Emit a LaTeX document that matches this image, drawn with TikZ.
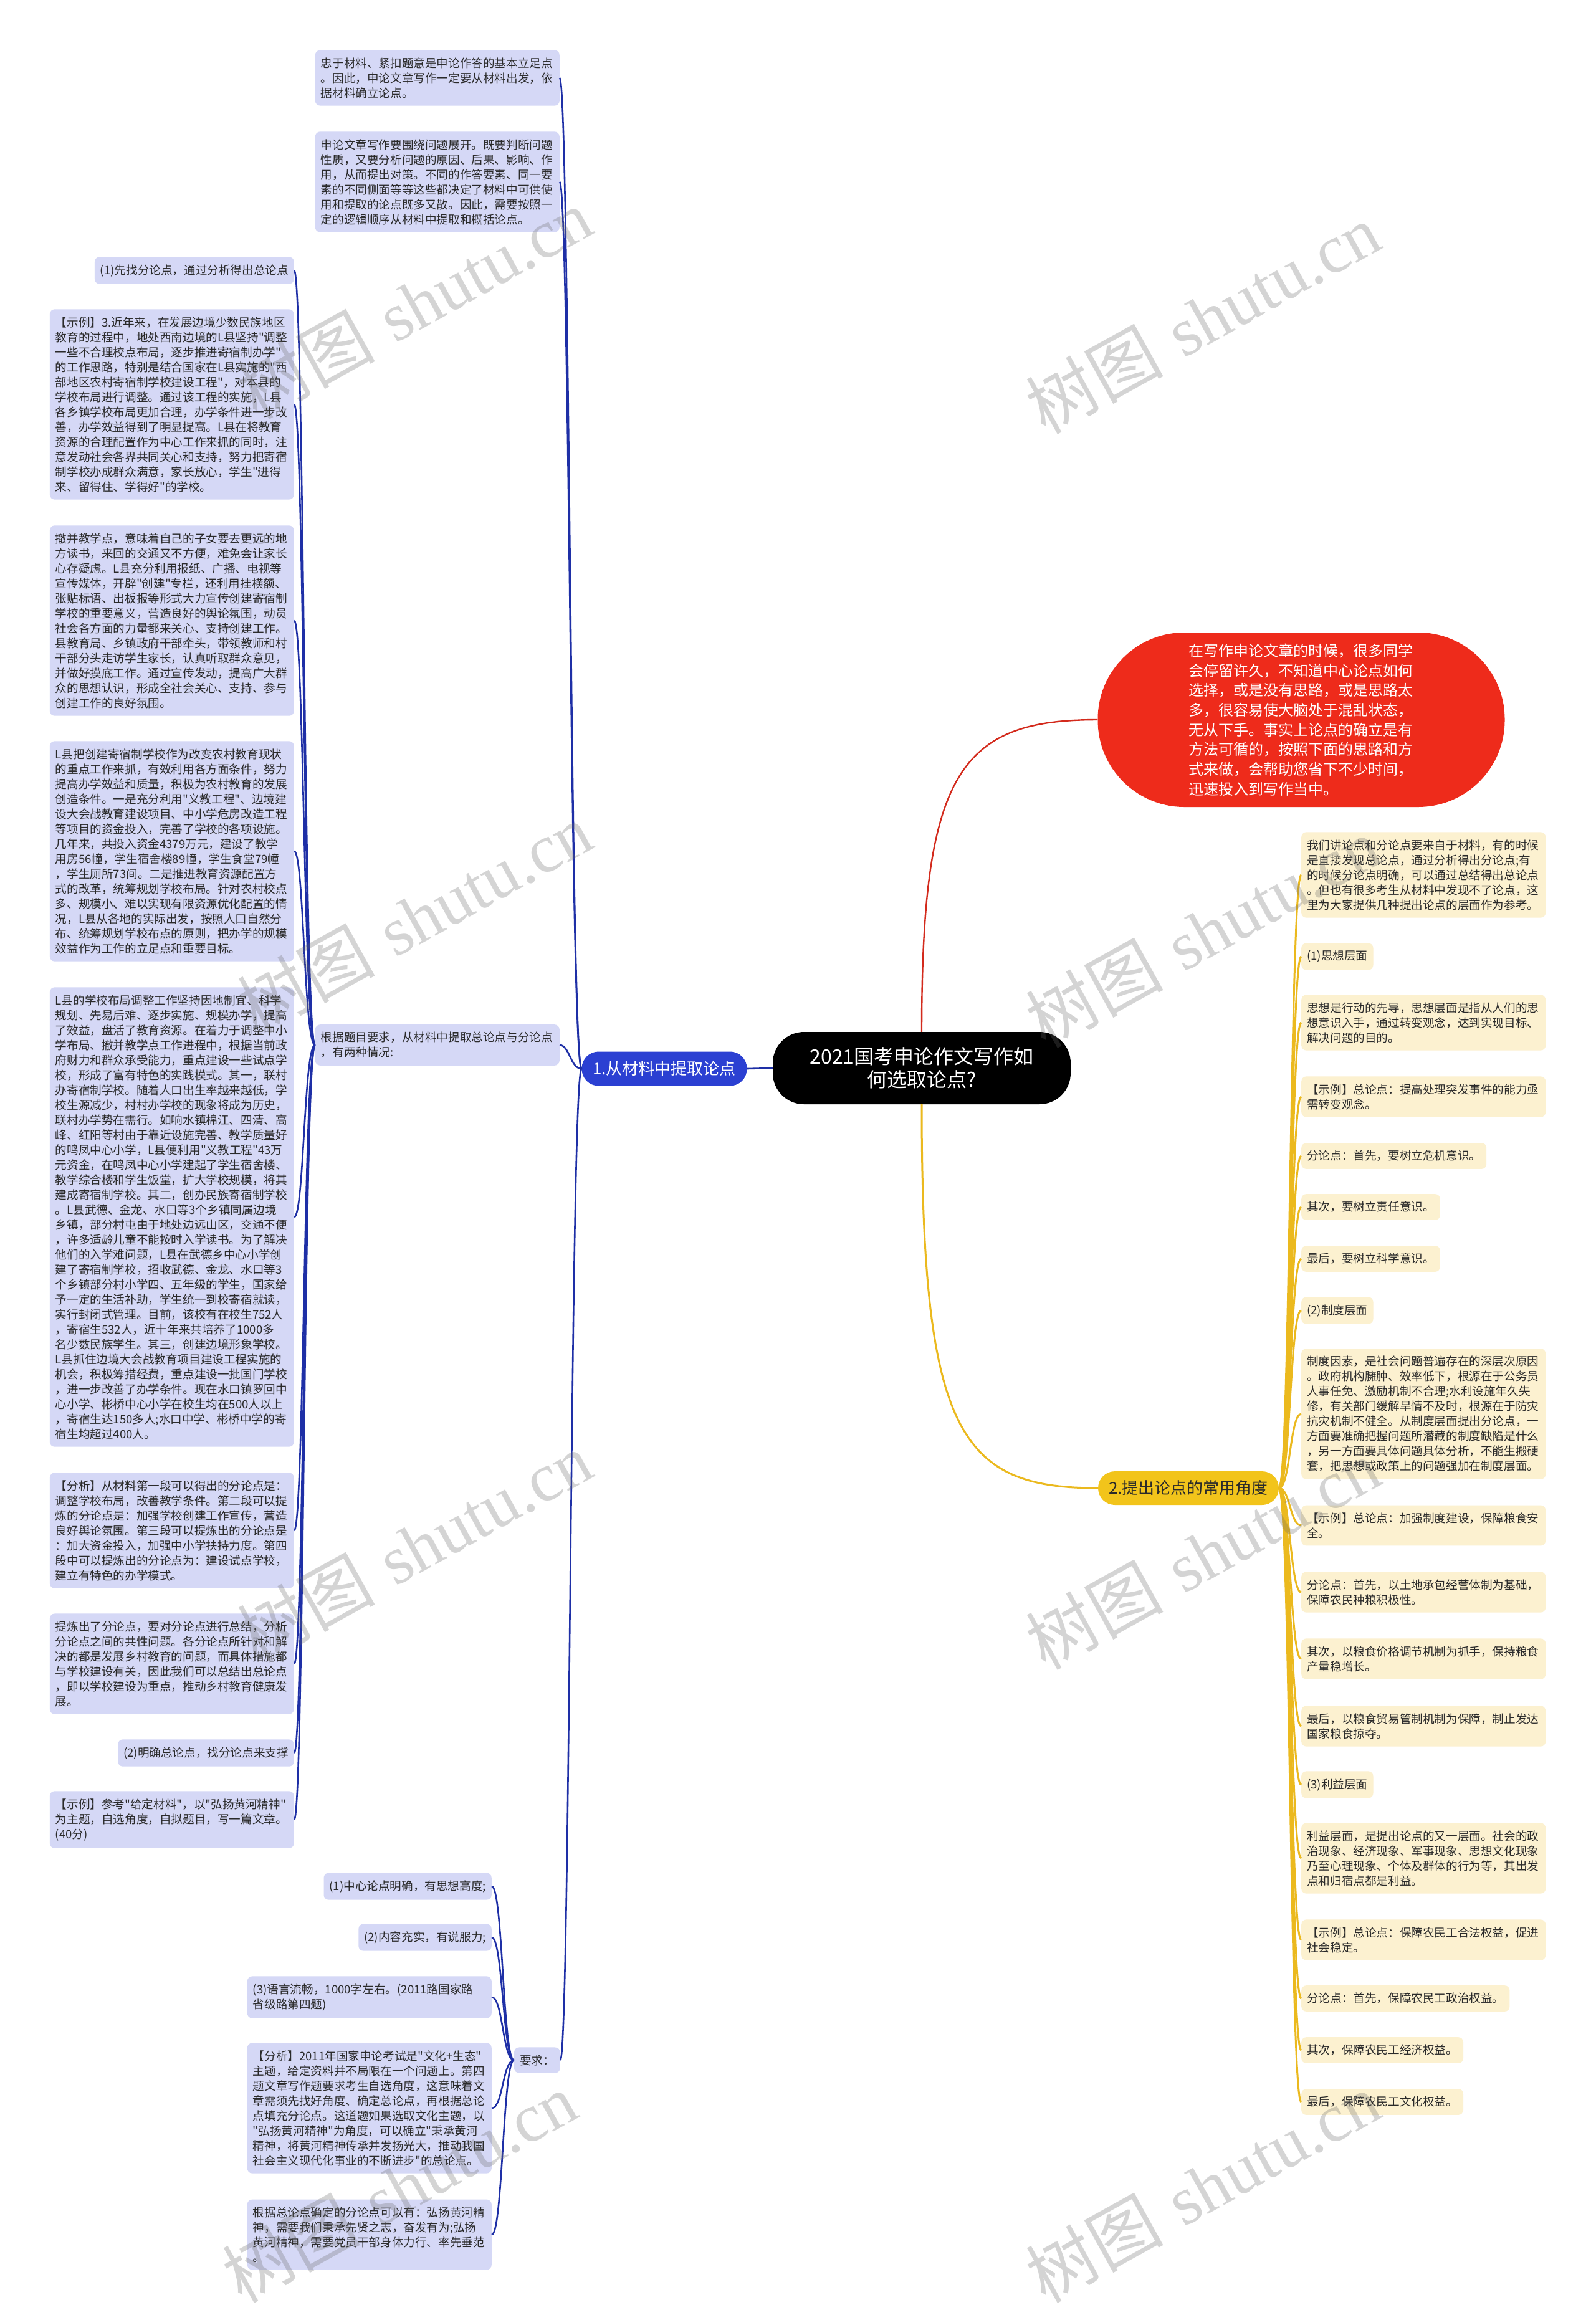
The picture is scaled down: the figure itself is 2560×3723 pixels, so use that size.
\documentclass[tikz,border=0pt]{standalone}
\usepackage{fontspec}
\newfontfamily\zh{Noto Sans CJK SC}
\newfontfamily\wmlat{Liberation Serif}
\definecolor{lav}{HTML}{D5D8F6}
\definecolor{cream}{HTML}{FCF1D0}
\definecolor{bline}{HTML}{1E2FA6}
\definecolor{bnode}{HTML}{2B40D2}
\definecolor{yline}{HTML}{EBB91E}
\definecolor{ynode}{HTML}{F2C41B}
\definecolor{rnode}{HTML}{EE2B1B}
\definecolor{rline}{HTML}{D32A1C}
\definecolor{txt}{HTML}{2A2A2A}
\tikzset{
 box/.style={rounded corners=8pt, inner xsep=9pt, inner ysep=12pt, font=\zh\fontsize{18.6}{24}\selectfont, text=txt, align=left},
 lbox/.style={box, fill=lav},
 rbox/.style={box, fill=cream},
 wide/.style={text width=374pt},
 bconn/.style={draw=bline, line width=2.6pt},
 yconn/.style={draw=yline, line width=3pt},
 rconn/.style={draw=rline, line width=2.4pt},
 wm/.style={rotate=29, text=black!60, opacity=0.28, font=\fontsize{110}{120}\selectfont},
}
\begin{document}
\begin{tikzpicture}[x=1pt,y=-1pt]
\fill[white] (0,0) rectangle (2560,3723);
\useasboundingbox (0,0) rectangle (2560,3723);

% central and main branches
\node[fill=black, rounded corners=50pt, minimum width=478pt, minimum height=116pt, inner sep=0pt, text=white, align=center, font=\zh\fontsize{32}{37}\selectfont] (ctr) at (1479,1714) {2021国考申论作文写作如\\何选取论点?};
\node[fill=bnode, rounded corners=27pt, minimum width=265pt, minimum height=55pt, inner sep=0pt, text=white, font=\zh\fontsize{26}{30}\selectfont] (b1) at (1066,1715) {1.从材料中提取论点};
\node[fill=ynode, rounded corners=27pt, minimum width=290pt, minimum height=54pt, inner sep=0pt, text=txt, font=\zh\fontsize{26}{30}\selectfont] (y2) at (1907,2388) {2.提出论点的常用角度};
\node[fill=rnode, rounded corners=139pt, minimum width=653pt, minimum height=280pt, inner sep=0pt, text=white, text width=362pt, align=left, font=\zh\fontsize{24}{31.7}\selectfont] (red) at (2088,1155) {在写作申论文章的时候，很多同学\\
会停留许久，不知道中心论点如何\\
选择，或是没有思路，或是思路太\\
多，很容易使大脑处于混乱状态，\\
无从下手。事实上论点的确立是有\\
方法可循的，按照下面的思路和方\\
式来做，会帮助您省下不少时间，\\
迅速投入到写作当中。};

% level 2, left
\node[lbox, wide, anchor=east] (a) at (898,125) {忠于材料、紧扣题意是申论作答的基本立足点\\
。因此，申论文章写作一定要从材料出发，依\\
据材料确立论点。};
\node[lbox, wide, anchor=east] (b) at (898,292) {申论文章写作要围绕问题展开。既要判断问题\\
性质，又要分析问题的原因、后果、影响、作\\
用，从而提出对策。不同的作答要素、同一要\\
素的不同侧面等等这些都决定了材料中可供使\\
用和提取的论点既多又散。因此，需要按照一\\
定的逻辑顺序从材料中提取和概括论点。};
\node[lbox, wide, anchor=east] (c) at (898,1677) {根据题目要求，从材料中提取总论点与分论点\\
，有两种情况:};
\node[lbox, anchor=east] (req) at (899,3306) {要求：};

% children of c
\node[lbox, anchor=east] (d1) at (472,434) {(1)先找分论点，通过分析得出总论点};
\node[lbox, wide, anchor=east] (d2) at (472,649) {【示例】3.近年来，在发展边境少数民族地区\\
教育的过程中，地处西南边境的L县坚持"调整\\
一些不合理校点布局，逐步推进寄宿制办学"\\
的工作思路，特别是结合国家在L县实施的"西\\
部地区农村寄宿制学校建设工程"，对本县的\\
学校布局进行调整。通过该工程的实施，L县\\
各乡镇学校布局更加合理，办学条件进一步改\\
善，办学效益得到了明显提高。L县在将教育\\
资源的合理配置作为中心工作来抓的同时，注\\
意发动社会各界共同关心和支持，努力把寄宿\\
制学校办成群众满意，家长放心，学生"进得\\
来、留得住、学得好"的学校。};
\node[lbox, wide, anchor=east] (d3) at (472,996) {撤并教学点，意味着自己的子女要去更远的地\\
方读书，来回的交通又不方便，难免会让家长\\
心存疑虑。L县充分利用报纸、广播、电视等\\
宣传媒体，开辟"创建"专栏，还利用挂横额、\\
张贴标语、出板报等形式大力宣传创建寄宿制\\
学校的重要意义，营造良好的舆论氛围，动员\\
社会各方面的力量都来关心、支持创建工作。\\
县教育局、乡镇政府干部牵头，带领教师和村\\
干部分头走访学生家长，认真听取群众意见，\\
并做好摸底工作。通过宣传发动，提高广大群\\
众的思想认识，形成全社会关心、支持、参与\\
创建工作的良好氛围。};
\node[lbox, wide, anchor=east] (d4) at (472,1366) {L县把创建寄宿制学校作为改变农村教育现状\\
的重点工作来抓，有效利用各方面条件，努力\\
提高办学效益和质量，积极为农村教育的发展\\
创造条件。一是充分利用"义教工程"、边境建\\
设大会战教育建设项目、中小学危房改造工程\\
等项目的资金投入，完善了学校的各项设施。\\
几年来，共投入资金4379万元，建设了教学\\
用房56幢，学生宿舍楼89幢，学生食堂79幢\\
，学生厕所73间。二是推进教育资源配置方\\
式的改革，统筹规划学校布局。针对农村校点\\
多、规模小、难以实现有限资源优化配置的情\\
况，L县从各地的实际出发，按照人口自然分\\
布、统筹规划学校布点的原则，把办学的规模\\
效益作为工作的立足点和重要目标。};
\node[lbox, wide, anchor=east] (d5) at (472,1953) {L县的学校布局调整工作坚持因地制宜、科学\\
规划、先易后难、逐步实施、规模办学，提高\\
了效益，盘活了教育资源。在着力于调整中小\\
学布局、撤并教学点工作进程中，根据当前政\\
府财力和群众承受能力，重点建设一些试点学\\
校，形成了富有特色的实践模式。其一，联村\\
办寄宿制学校。随着人口出生率越来越低，学\\
校生源减少，村村办学校的现象将成为历史，\\
联村办学势在需行。如响水镇棉江、四清、高\\
峰、红阳等村由于靠近设施完善、教学质量好\\
的鸣凤中心小学，L县便利用"义教工程"43万\\
元资金，在鸣凤中心小学建起了学生宿舍楼、\\
教学综合楼和学生饭堂，扩大学校规模，将其\\
建成寄宿制学校。其二，创办民族寄宿制学校\\
。L县武德、金龙、水口等3个乡镇同属边境\\
乡镇，部分村屯由于地处边远山区，交通不便\\
，许多适龄儿童不能按时入学读书。为了解决\\
他们的入学难问题，L县在武德乡中心小学创\\
建了寄宿制学校，招收武德、金龙、水口等3\\
个乡镇部分村小学四、五年级的学生，国家给\\
予一定的生活补助，学生统一到校寄宿就读，\\
实行封闭式管理。目前，该校有在校生752人\\
，寄宿生532人，近十年来共培养了1000多\\
名少数民族学生。其三，创建边境形象学校。\\
L县抓住边境大会战教育项目建设工程实施的\\
机会，积极筹措经费，重点建设一批国门学校\\
，进一步改善了办学条件。现在水口镇罗回中\\
心小学、彬桥中心小学在校生均在500人以上\\
，寄宿生达150多人;水口中学、彬桥中学的寄\\
宿生均超过400人。};
\node[lbox, wide, anchor=east] (d6) at (472,2456) {【分析】从材料第一段可以得出的分论点是：\\
调整学校布局，改善教学条件。第二段可以提\\
炼的分论点是：加强学校创建工作宣传，营造\\
良好舆论氛围。第三段可以提炼出的分论点是\\
：加大资金投入，加强中小学扶持力度。第四\\
段中可以提炼出的分论点为：建设试点学校，\\
建立有特色的办学模式。};
\node[lbox, wide, anchor=east] (d7) at (472,2670) {提炼出了分论点，要对分论点进行总结，分析\\
分论点之间的共性问题。各分论点所针对和解\\
决的都是发展乡村教育的问题，而具体措施都\\
与学校建设有关，因此我们可以总结出总论点\\
，即以学校建设为重点，推动乡村教育健康发\\
展。};
\node[lbox, anchor=east] (d8) at (472,2813) {(2)明确总论点，找分论点来支撑};
\node[lbox, wide, anchor=east] (d9) at (472,2920) {【示例】参考"给定材料"，以"弘扬黄河精神"\\
为主题，自选角度，自拟题目，写一篇文章。\\
(40分)};

% children of req
\node[lbox, anchor=east] (e1) at (789,3027) {(1)中心论点明确，有思想高度;};
\node[lbox, anchor=east] (e2) at (789,3109) {(2)内容充实，有说服力;};
\node[lbox, wide, anchor=east] (e3) at (789,3205) {(3)语言流畅，1000字左右。(2011路国家路\\
省级路第四题)};
\node[lbox, wide, anchor=east] (e4) at (789,3383) {【分析】2011年国家申论考试是"文化+生态"\\
主题，给定资料并不局限在一个问题上。第四\\
题文章写作题要求考生自选角度，这意味着文\\
章需须先找好角度、确定总论点，再根据总论\\
点填充分论点。这道题如果选取文化主题，以\\
"弘扬黄河精神"为角度，可以确立"秉承黄河\\
精神，将黄河精神传承并发扬光大，推动我国\\
社会主义现代化事业的不断进步"的总论点。};
\node[lbox, wide, anchor=east] (e5) at (789,3586) {根据总论点确定的分论点可以有：弘扬黄河精\\
神，需要我们秉承先贤之志，奋发有为;弘扬\\
黄河精神，需要党员干部身体力行、率先垂范\\
。};

% right side
\node[rbox, wide, anchor=west] (r1) at (2088,1404) {我们讲论点和分论点要来自于材料，有的时候\\
是直接发现总论点，通过分析得出分论点;有\\
的时候分论点明确，可以通过总结得出总论点\\
。但也有很多考生从材料中发现不了论点，这\\
里为大家提供几种提出论点的层面作为参考。};
\node[rbox, anchor=west] (r2) at (2088,1535) {(1)思想层面};
\node[rbox, wide, anchor=west] (r3) at (2088,1641) {思想是行动的先导，思想层面是指从人们的思\\
想意识入手，通过转变观念，达到实现目标、\\
解决问题的目的。};
\node[rbox, wide, anchor=west] (r4) at (2088,1760) {【示例】总论点：提高处理突发事件的能力亟\\
需转变观念。};
\node[rbox, anchor=west] (r5) at (2088,1855) {分论点：首先，要树立危机意识。};
\node[rbox, anchor=west] (r6) at (2088,1937) {其次，要树立责任意识。};
\node[rbox, anchor=west] (r7) at (2088,2020) {最后，要树立科学意识。};
\node[rbox, anchor=west] (r8) at (2088,2103) {(2)制度层面};
\node[rbox, wide, anchor=west] (r9) at (2088,2269) {制度因素，是社会问题普遍存在的深层次原因\\
。政府机构臃肿、效率低下，根源在于公务员\\
人事任免、激励机制不合理;水利设施年久失\\
修，有关部门缓解旱情不及时，根源在于防灾\\
抗灾机制不健全。从制度层面提出分论点，一\\
方面要准确把握问题所潜藏的制度缺陷是什么\\
，另一方面要具体问题具体分析，不能生搬硬\\
套，把思想或政策上的问题强加在制度层面。};
\node[rbox, wide, anchor=west] (r10) at (2088,2448) {【示例】总论点：加强制度建设，保障粮食安\\
全。};
\node[rbox, wide, anchor=west] (r11) at (2088,2555) {分论点：首先，以土地承包经营体制为基础，\\
保障农民种粮积极性。};
\node[rbox, wide, anchor=west] (r12) at (2088,2662) {其次，以粮食价格调节机制为抓手，保持粮食\\
产量稳增长。};
\node[rbox, wide, anchor=west] (r13) at (2088,2770) {最后，以粮食贸易管制机制为保障，制止发达\\
国家粮食掠夺。};
\node[rbox, anchor=west] (r14) at (2088,2864) {(3)利益层面};
\node[rbox, wide, anchor=west] (r15) at (2088,2982) {利益层面，是提出论点的又一层面。社会的政\\
治现象、经济现象、军事现象、思想文化现象\\
乃至心理现象、个体及群体的行为等，其出发\\
点和归宿点都是利益。};
\node[rbox, wide, anchor=west] (r16) at (2088,3113) {【示例】总论点：保障农民工合法权益，促进\\
社会稳定。};
\node[rbox, anchor=west] (r17) at (2088,3207) {分论点：首先，保障农民工政治权益。};
\node[rbox, anchor=west] (r18) at (2088,3290) {其次，保障农民工经济权益。};
\node[rbox, anchor=west] (r19) at (2088,3373) {最后，保障农民工文化权益。};

% connectors
\draw[bconn] (ctr.west) -- (b1.east);
\draw[rconn] (ctr.north) .. controls (1479,1240) and (1540,1155) .. (red.west);
\draw[yconn] (ctr.south) .. controls (1479,2300) and (1540,2388) .. (y2.west);
\foreach \n in {a,b,c,req} \draw[bconn] (b1.west) .. controls +(-18,0) and +(16,0) .. (\n.east);
\foreach \i in {1,...,9} \draw[bconn] (c.west) .. controls +(-18,0) and +(16,0) .. (d\i.east);
\foreach \i in {1,...,5} \draw[bconn] (req.west) .. controls +(-18,0) and +(18,0) .. (e\i.east);
\foreach \i in {1,...,19} \draw[yconn] (y2.east) .. controls +(18,0) and +(-18,0) .. (r\i.west);

% watermarks
\foreach \p [count=\k] in {(665,487),(1930,511),(665,1473),(1930,1496),(665,2482),(1930,2494),(641,3510),(1930,3510)}
  \node[wm] (wm\k) at \p {{\zh 树图} {\wmlat shutu.cn}};
\end{tikzpicture}
\end{document}
